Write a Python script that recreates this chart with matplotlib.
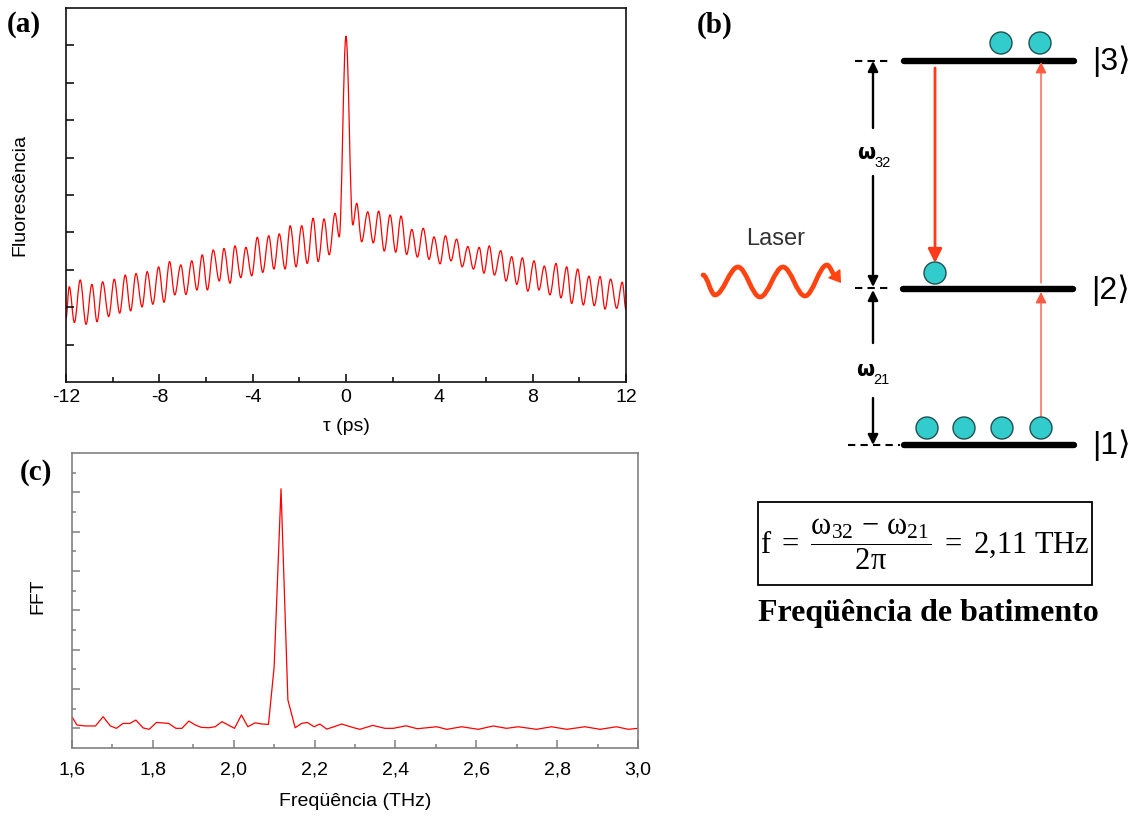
import matplotlib
matplotlib.use('Agg')
import matplotlib.pyplot as plt
from matplotlib.path import Path
from matplotlib.patches import PathPatch, Circle, Rectangle

plt.rcParams['font.family'] = ['Liberation Sans', 'DejaVu Sans']
plt.rcParams['mathtext.fontset'] = 'custom'
plt.rcParams['mathtext.rm'] = 'Liberation Serif'
plt.rcParams['mathtext.it'] = 'Liberation Serif:italic'
plt.rcParams['mathtext.bf'] = 'Liberation Serif:bold'

# ---------------- data: panel (a) fluorescence vs delay (local extrema) ----------------
tau = [-12.0, -11.86, -11.64, -11.39, -11.14, -10.89, -10.67, -10.43, -10.17, -9.93,
       -9.70, -9.46, -9.23, -9.00, -8.74, -8.52, -8.28, -8.03, -7.80, -7.56,
       -7.34, -7.08, -6.86, -6.61, -6.39, -6.16, -5.94, -5.69, -5.43, -5.23,
       -4.97, -4.76, -4.51, -4.29, -4.04, -3.80, -3.57, -3.31, -3.09, -2.86,
       -2.61, -2.39, -2.14, -1.90, -1.66, -1.41, -1.19, -0.94, -0.72, -0.47,
       -0.29, 0.0, 0.29, 0.46, 0.67, 0.93, 1.17, 1.40, 1.64, 1.89,
       2.13, 2.36, 2.60, 2.82, 3.06, 3.31, 3.56, 3.77, 4.03, 4.26,
       4.50, 4.74, 4.98, 5.22, 5.46, 5.71, 5.91, 6.14, 6.36, 6.63,
       6.86, 7.10, 7.32, 7.56, 7.79, 8.06, 8.27, 8.50, 8.74, 9.00,
       9.21, 9.46, 9.67, 9.93, 10.17, 10.41, 10.64, 10.89, 11.10, 11.34,
       11.60, 11.84, 12.0]
fluor = [1.70, 2.55, 1.59, 2.73, 1.54, 2.61, 1.61, 2.68, 1.75, 2.75,
         1.84, 2.86, 1.90, 2.90, 2.01, 2.95, 2.08, 3.08, 2.13, 3.22,
         2.33, 3.13, 2.34, 3.24, 2.46, 3.40, 2.46, 3.53, 2.70, 3.57,
         2.64, 3.64, 2.79, 3.60, 2.84, 3.87, 2.93, 3.91, 3.02, 3.96,
         3.02, 4.18, 3.08, 4.18, 3.17, 4.38, 3.22, 4.36, 3.40, 4.51,
         3.88, 9.25, 4.20, 4.78, 3.75, 4.55, 3.72, 4.57, 3.50, 4.47,
         3.47, 4.44, 3.41, 4.08, 3.34, 4.11, 3.28, 3.88, 3.16, 3.91,
         3.24, 3.82, 3.08, 3.62, 3.02, 3.60, 2.91, 3.64, 2.86, 3.51,
         2.70, 3.35, 2.61, 3.32, 2.43, 3.24, 2.46, 3.10, 2.33, 3.17,
         2.25, 3.08, 2.10, 3.02, 2.06, 2.83, 2.04, 2.82, 1.95, 2.75,
         1.97, 2.67, 1.93]
tau_ticks = [-12, -8, -4, 0, 4, 8, 12]
tau_ticklabels = ['-12', '-8', '-4', '0', '4', '8', '12']
tau_minor = [-10, -6, -2, 2, 6, 10]
fluor_ticks = [1, 2, 3, 4, 5, 6, 7, 8, 9]

# ---------------- data: panel (c) FFT ----------------
freq = [1.600, 1.612, 1.633, 1.658, 1.677, 1.695, 1.710, 1.726, 1.743, 1.758,
        1.776, 1.791, 1.809, 1.839, 1.857, 1.872, 1.889, 1.905, 1.920, 1.938,
        1.954, 1.971, 2.002, 2.019, 2.035, 2.053, 2.070, 2.086, 2.100, 2.117,
        2.134, 2.152, 2.168, 2.182, 2.199, 2.213, 2.230, 2.248, 2.267, 2.281,
        2.297, 2.312, 2.344, 2.374, 2.395, 2.426, 2.454, 2.502, 2.527, 2.564,
        2.605, 2.642, 2.675, 2.704, 2.749, 2.786, 2.824, 2.869, 2.906, 2.947,
        2.976, 3.000]
fft = [0.59, 0.17, 0.12, 0.12, 0.59, 0.12, 0.00, 0.25, 0.25, 0.42,
       0.02, -0.05, 0.30, 0.25, 0.00, 0.00, 0.37, 0.17, 0.05, 0.03,
       0.08, 0.34, 0.00, 0.68, 0.08, 0.28, 0.22, 0.20, 3.13, 12.18,
       1.44, 0.03, 0.25, 0.30, 0.08, 0.22, -0.04, 0.08, 0.22, 0.13,
       0.03, -0.05, 0.15, 0.00, 0.00, 0.13, -0.02, 0.08, -0.05, 0.08,
       -0.05, 0.12, 0.00, 0.08, -0.05, 0.08, -0.05, 0.08, -0.05, 0.08,
       -0.05, 0.00]
freq_ticks = [1.6, 1.8, 2.0, 2.2, 2.4, 2.6, 2.8, 3.0]
freq_ticklabels = ['1,6', '1,8', '2,0', '2,2', '2,4', '2,6', '2,8', '3,0']
freq_minor = [1.7, 1.9, 2.1, 2.3, 2.5, 2.7, 2.9]
fft_ticks = [0, 2, 4, 6, 8, 10, 12]
fft_minor = [1, 3, 5, 7, 9, 11, 13]

# ---------------- text ----------------
panel_labels = ['(a)', '(b)', '(c)']
xlabel_a = 'τ (ps)'
ylabel_a = 'Fluorescência'
xlabel_c = 'Freqüência (THz)'
ylabel_c = 'FFT'
kets = ['|3⟩', '|2⟩', '|1⟩']
formula = r'$\mathrm{f\ =\ \dfrac{ω_{32}\,-\,ω_{21}}{2π}\ =\ 2{,}11\ THz}$'
caption = 'Freqüência de batimento'

W, H = 1132, 819
fig = plt.figure(figsize=(W / 100, H / 100), dpi=100)


def fx(x):
    return x / W


def fy(y):
    return 1 - y / H


def smooth_path(xs, ys, k=0.36):
    verts = [(xs[0], ys[0])]
    codes = [Path.MOVETO]
    for i in range(len(xs) - 1):
        dx = xs[i + 1] - xs[i]
        verts += [(xs[i] + k * dx, ys[i]), (xs[i + 1] - k * dx, ys[i + 1]), (xs[i + 1], ys[i + 1])]
        codes += [Path.CURVE4] * 3
    return Path(verts, codes)


# ---------------- panel (a) ----------------
axa = fig.add_axes([fx(66), fy(382), (626 - 66) / W, (382 - 8) / H])
axa.add_patch(PathPatch(smooth_path(tau, fluor), fill=False, edgecolor='#ff0000', lw=0.9))
axa.set_xlim(-12, 12)
axa.set_ylim(0, 10)
axa.set_xticks(tau_ticks)
axa.set_xticklabels(tau_ticklabels)
axa.set_xticks(tau_minor, minor=True)
axa.set_yticks(fluor_ticks)
axa.set_yticklabels([])
axa.tick_params(axis='both', which='major', direction='in', length=6, width=1.1,
                labelsize=14, pad=5, top=False, right=False)
axa.tick_params(axis='both', which='minor', direction='in', length=3.5, width=1.1,
                top=False, right=False)
for s in axa.spines.values():
    s.set_linewidth(1.2)
    s.set_color('#111111')

# ---------------- panel (c) ----------------
axc = fig.add_axes([fx(72), fy(748), (638 - 72) / W, (748 - 453) / H])
axc.plot(freq, fft, color='#ff0000', lw=0.9)
axc.set_xlim(1.6, 3.0)
axc.set_ylim(-1, 14)
axc.set_xticks(freq_ticks)
axc.set_xticklabels(freq_ticklabels)
axc.set_xticks(freq_minor, minor=True)
axc.set_yticks(fft_ticks)
axc.set_yticklabels([])
axc.set_yticks(fft_minor, minor=True)
axc.tick_params(axis='both', which='major', direction='in', length=5.5, width=1.1,
                labelsize=14, pad=10, color='#808080', top=False, right=False)
axc.tick_params(axis='both', which='minor', direction='in', length=3, width=1.1,
                color='#808080', top=False, right=False)
for s in axc.spines.values():
    s.set_linewidth(1.2)
    s.set_color('#808080')

# axis labels
fig.text(fx(346), fy(426), xlabel_a, ha='center', va='center', fontsize=14)
fig.text(fx(20), fy(195), ylabel_a, ha='center', va='center', rotation=90, fontsize=14)
fig.text(fx(355), fy(802), xlabel_c, ha='center', va='center', fontsize=14)
fig.text(fx(38), fy(596), ylabel_c, ha='center', va='center', rotation=90, fontsize=14)

# ---------------- overlay: panel (b) diagram + labels ----------------
ov = fig.add_axes([0, 0, 1, 1], zorder=5)
ov.set_xlim(0, W)
ov.set_ylim(H, 0)
ov.axis('off')

for lab, (x, y) in zip(panel_labels, [(7, 24), (697, 25), (20, 472)]):
    ov.text(x, y, lab, ha='left', va='center', fontsize=21, fontweight='bold',
            family='Liberation Serif')

# energy levels
for (x0, x1, y) in [(904, 1074, 61), (903, 1073, 289), (904, 1074, 445)]:
    ov.plot([x0, x1], [y, y], color='black', lw=4.6, solid_capstyle='round')
# dashed guide lines
for (x0, x1, y) in [(855, 892, 61), (855, 892, 288), (848, 900, 445)]:
    ov.plot([x0, x1], [y, y], color='black', lw=1.5, dashes=(3.5, 2.5))

# black double arrows
arr_k = dict(arrowstyle='-|>,head_length=0.6,head_width=0.3', color='black', lw=1.7,
             shrinkA=0, shrinkB=0, mutation_scale=10)
for tail, tip in [((873, 128), (873, 61)), ((873, 176), (873, 287)),
                  ((873, 343), (873, 290)), ((873, 398), (873, 445))]:
    ov.annotate('', xy=tip, xytext=tail, arrowprops=arr_k)

# omega labels
ov.text(866, 153, 'ω', ha='center', va='center', fontsize=15, fontweight='bold',
        family='DejaVu Sans')
ov.text(874, 163, '32', ha='left', va='center', fontsize=10.5)
ov.text(865, 370, 'ω', ha='center', va='center', fontsize=15, fontweight='bold',
        family='DejaVu Sans')
ov.text(873, 380, '21', ha='left', va='center', fontsize=10.5)

# red transition arrows
ov.annotate('', xy=(935, 263), xytext=(935, 68),
            arrowprops=dict(arrowstyle='-|>,head_length=0.7,head_width=0.35', color='#ff3a1a',
                            lw=2.0, shrinkA=0, shrinkB=0, mutation_scale=12))
for tail, tip in [((1041, 418), (1041, 292)), ((1041, 283), (1041, 62))]:
    ov.annotate('', xy=tip, xytext=tail,
                arrowprops=dict(arrowstyle='-|>,head_length=0.6,head_width=0.3', color='#ff5a40',
                                lw=1.0, shrinkA=0, shrinkB=0, mutation_scale=11))

# population circles
for (cx, cy) in [(1001, 43), (1040, 43), (935, 273), (927, 428), (964, 428), (1002, 428), (1041, 428)]:
    ov.add_patch(Circle((cx, cy), 11, facecolor='#33cccc', edgecolor='#205050', lw=1.0, zorder=6))

# kets
for k, y in zip(kets, [61, 290, 445]):
    ov.text(1111, y, k, ha='center', va='center', fontsize=23,
            family=['Liberation Sans', 'DejaVu Sans'])

# laser
ov.text(776, 239, 'Laser', ha='center', va='center', fontsize=17, color='#333333')
wave_x = [703, 715, 738, 760, 783, 805, 827, 836]
wave_y = [275, 295, 267, 297, 267, 296, 265, 276]
wp = smooth_path(wave_x, wave_y)
ov.add_patch(PathPatch(wp, fill=False, edgecolor='#ff4411', lw=3.4, capstyle='round'))
ov.annotate('', xy=(841, 283), xytext=(833, 272),
            arrowprops=dict(arrowstyle='-|>,head_length=0.6,head_width=0.4', color='#ff4411',
                            lw=1.0, shrinkA=0, shrinkB=0, mutation_scale=12))

# formula box
ov.add_patch(Rectangle((758, 502), 334, 83, fill=False, edgecolor='black', lw=1.3))
ov.text(925, 544, formula, ha='center', va='center', fontsize=22)
ov.text(928, 614, caption, ha='center', va='center', fontsize=23, fontweight='bold',
        family='Liberation Serif')

fig.savefig('out.png', dpi=100)
